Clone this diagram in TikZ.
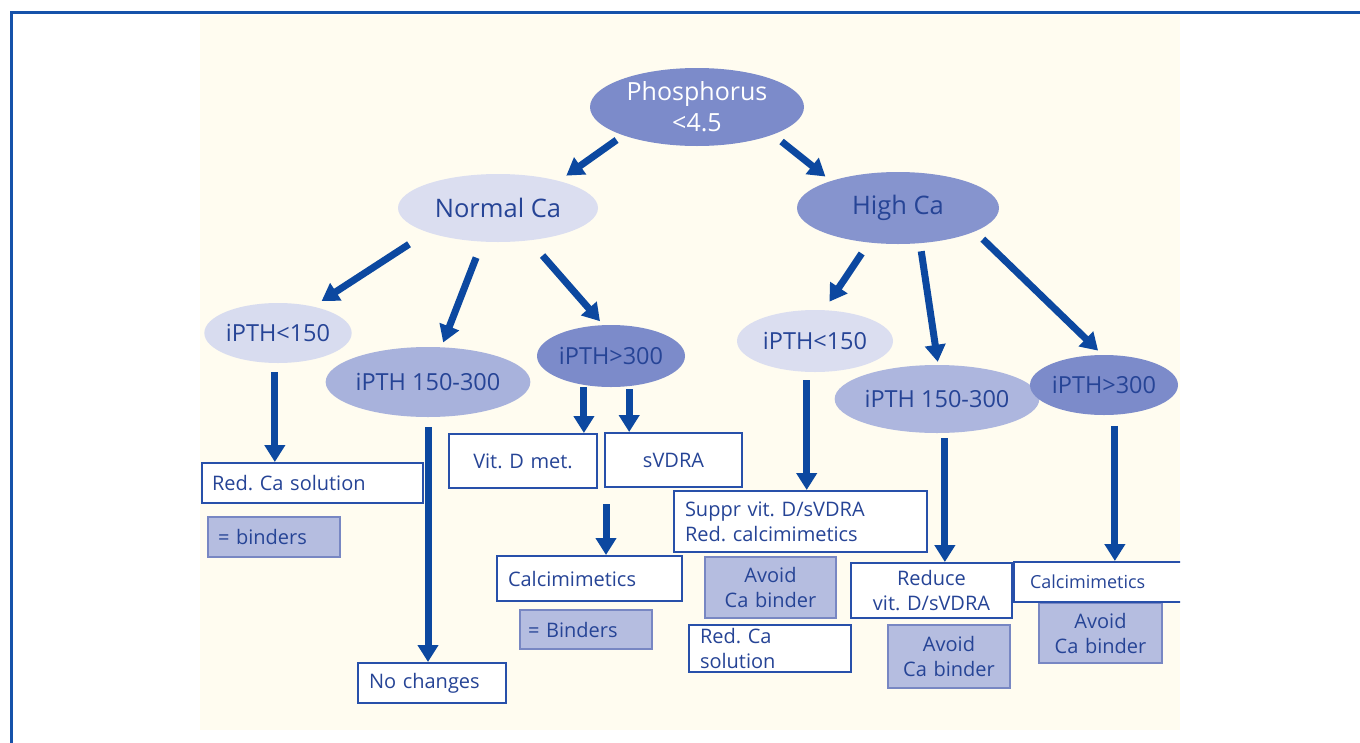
\documentclass[tikz,border=0pt]{standalone}
\usepackage{fontspec}
\setmainfont{Open Sans}
\frenchspacing
\usetikzlibrary{arrows.meta,shapes.geometric,calc}

\definecolor{frameblue}{RGB}{22,82,170}
\definecolor{paper}{RGB}{255,252,240}
\definecolor{txtblue}{RGB}{38,68,150}
\definecolor{arrblue}{RGB}{12,72,160}
\definecolor{boxline}{RGB}{40,80,170}
\definecolor{shade}{RGB}{181,189,224}
\definecolor{shadeline}{RGB}{120,135,195}
\definecolor{elldark}{RGB}{124,139,202}
\definecolor{ellmid}{RGB}{168,178,220}
\definecolor{elllight}{RGB}{219,222,240}

\tikzset{
  ell/.style={ellipse, inner sep=0pt, text=txtblue, font=\fontsize{23.5}{26}\selectfont},
  bigell/.style={ell, font=\fontsize{25.5}{31}\selectfont},
  arr/.style={draw=arrblue, line width=7pt, -{Triangle[length=17pt,width=20pt]}},
  box/.style={rectangle, draw=boxline, line width=2pt, fill=white, text=txtblue,
    inner xsep=10pt, inner ysep=0pt, align=left, font=\fontsize{20}{25}\selectfont},
  shadebox/.style={box, draw=shadeline, fill=shade},
}

\begin{document}
\begin{tikzpicture}[x=1pt,y=-1pt]
  \useasboundingbox (0,0) rectangle (1360,742);
  \fill[white] (0,0) rectangle (1360,742);
  \draw[frameblue, line width=3pt] (11,760) -- (11,12) -- (1375,12);
  \fill[paper] (200,15) rectangle (1180,730);

  \begin{scope}
  \clip (200,15) rectangle (1180,730);

  % top of the tree
  \node[bigell, fill=elldark, text=white, align=center, font=\fontsize{25}{31}\selectfont,
    minimum width=214pt, minimum height=78pt] (phos) at (697,107) {Phosphorus\\<4.5};
  \node[bigell, fill=elllight, minimum width=200pt, minimum height=68pt] (normal) at (498,208) {Normal Ca};
  \node[bigell, fill=elldark!92, minimum width=202pt, minimum height=72pt] (high) at (898,208) {High Ca};

  % normal Ca branch
  \node[ell, fill=elllight!95!ellmid, minimum width=146pt, minimum height=60pt] (lowL) at (278,333) {iPTH<150};
  \node[ell, fill=ellmid, minimum width=186pt, minimum height=70pt] (midL) at (428,382) {iPTH 150-300};
  \node[ell, fill=elldark, minimum width=148pt, minimum height=62pt] (hiL) at (611,356) {iPTH>300};

  \node[box, text width=201pt, minimum height=40pt] (redcaL) at (312.5,483) {Red. Ca solution};
  \node[shadebox, text width=112pt, minimum height=40pt] (bindL) at (274,537) {= binders};
  \node[box, inner xsep=11pt, text width=126pt, minimum height=40pt] (nochg) at (432,683) {No changes};
  \node[box, text width=128pt, align=center, minimum height=54pt] (vitd) at (523,461) {Vit. D met.};
  \node[box, text width=117pt, align=center, minimum height=54pt] (svdra) at (673.5,460) {sVDRA};
  \node[box, inner xsep=11pt, text width=163pt, minimum height=45pt] (calcL) at (589.5,578.5) {Calcimimetics};
  \node[shadebox, inner xsep=8pt, text width=116pt, minimum height=39pt] (bindB) at (586,629.5) {= Binders};

  % high Ca branch
  \node[ell, fill=elllight, minimum width=156pt, minimum height=62pt] (lowR) at (815,341) {iPTH<150};
  \node[ell, fill=ellmid!90!elllight, minimum width=170pt, minimum height=68pt] (midR) at (937,399) {iPTH 150-300};
  \node[ell, fill=elldark, minimum width=148pt, minimum height=60pt] (hiR) at (1104,385) {iPTH>300};

  \node[box, inner xsep=11pt, text width=231pt, minimum height=61pt] (suppr) at (800.5,521.5)
    {Suppr vit. D/sVDRA\\Red. calcimimetics};
  \node[shadebox, text width=111pt, align=center, minimum height=61pt] (avoidA) at (770.5,587.5) {Avoid\\Ca binder};
  \node[box, inner xsep=11pt, text width=140pt, minimum height=47pt] (redcaR) at (770,648.5) {Red. Ca\\solution};
  \node[box, text width=141pt, align=center, minimum height=55pt] (reduce) at (931.5,590.5) {Reduce\\vit. D/sVDRA};
  \node[shadebox, text width=102pt, align=center, minimum height=63pt] (avoidB) at (949,656.5) {Avoid\\Ca binder};
  \node[shadebox, text width=103pt, align=center, minimum height=60pt] (avoidC) at (1100.5,633) {Avoid\\Ca binder};
  \node[box, inner xsep=16pt, text width=139pt, minimum height=40pt, font=\fontsize{18}{22}\selectfont]
    (calcR) at (1099.5,582) {Calcimimetics};

  % arrows
  \draw[arr, shorten <=8pt, shorten >=9pt] (phos.201) -- (normal.24);
  \draw[arr, shorten <=11pt, shorten >=7pt] (phos.340) -- (high.158);

  \draw[arr, shorten <=22pt, shorten >=10pt] (normal.199) -- (lowL.37);
  \draw[arr, shorten <=17pt, shorten >=5pt] (normal.245) -- (midL.69);
  \draw[arr, shorten <=20pt, shorten >=5pt] (normal.314) -- (hiL.104);

  \draw[arr, shorten <=13pt, shorten >=10pt] (high.230) -- (lowR.74);
  \draw[arr, shorten <=8pt, shorten >=3pt] (high.302) -- (midR.88);
  \draw[arr, shorten <=11pt, shorten >=6pt] (high.343) -- (hiR.93);

  \draw[arr, shorten <=9pt] (lowL.264) -- (lowL.264 |- redcaL.north);
  \draw[arr, shorten <=10pt] (midL.south) -- (midL.south |- nochg.north);
  \draw[arr, shorten <=2pt] (hiL.227) -- (hiL.227 |- vitd.north);
  \draw[arr, shorten <=3pt] (hiL.301) -- (hiL.301 |- svdra.north);
  \coordinate (split) at (606,504);
  \draw[arr] (split) -- (split |- calcL.north);

  \draw[arr, shorten <=8pt] (lowR.255) -- (lowR.255 |- suppr.north);
  \draw[arr, shorten <=5pt] (midR.283) -- (midR.283 |- reduce.north);
  \draw[arr, shorten <=11pt] (hiR.290) -- (hiR.290 |- calcR.north);
  \end{scope}
\end{tikzpicture}
\end{document}
